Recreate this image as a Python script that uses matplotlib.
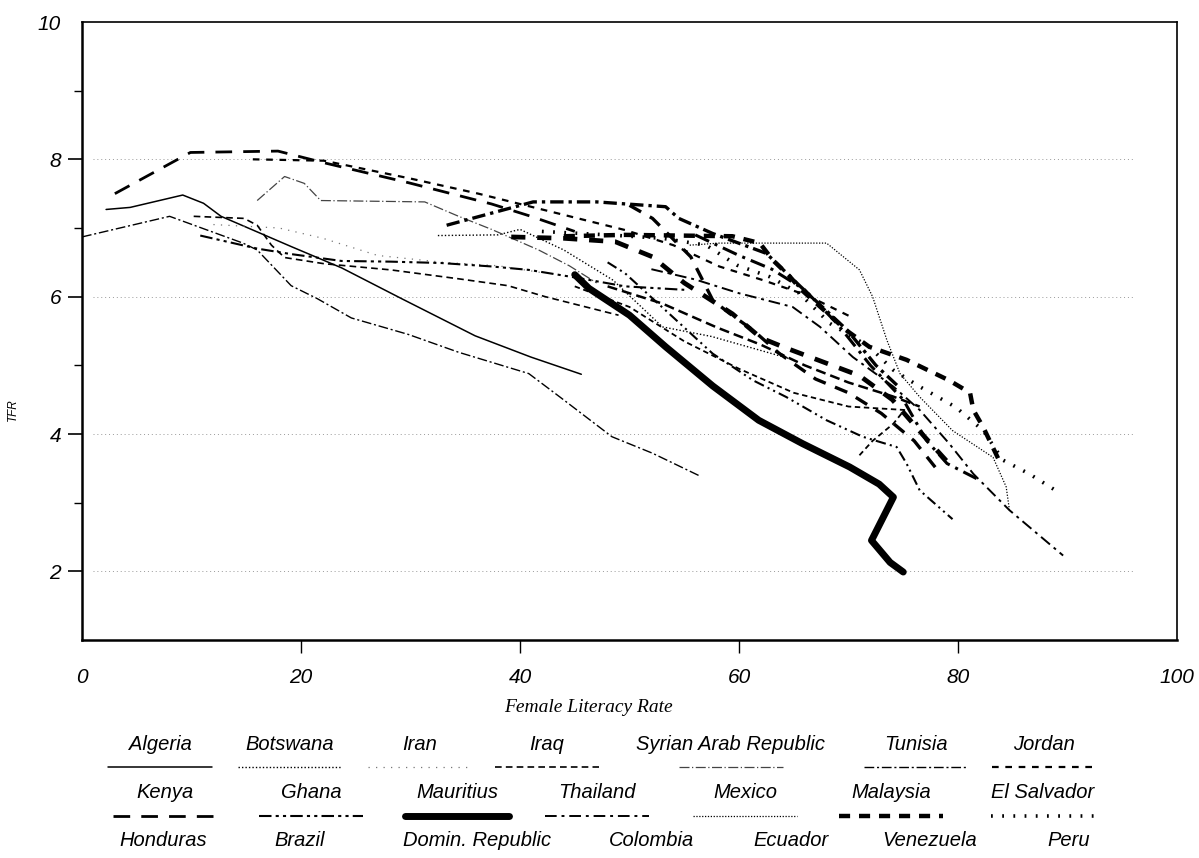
import matplotlib
matplotlib.use("Agg")

import matplotlib.pyplot as plt
from matplotlib.lines import Line2D

W, H = 1199, 858

# female literacy (x) and TFR (y) per country
lit_algeria = [2.2, 4.4, 9.2, 11.1, 12.7, 19.1, 23.7, 29.2, 35.9, 41.0, 45.6]
tfr_algeria = [7.27, 7.30, 7.48, 7.36, 7.17, 6.73, 6.42, 5.97, 5.43, 5.12, 4.87]

lit_botswana = [32.5, 38.0, 40.0, 44.0, 48.5, 53.0, 57.5, 65.0]
tfr_botswana = [6.89, 6.90, 6.98, 6.68, 6.24, 5.56, 5.42, 5.08]

lit_iran = [12.0, 18.0, 22.0, 27.0, 33.0, 38.0, 42.0]
tfr_iran = [7.05, 7.00, 6.85, 6.60, 6.50, 6.45, 6.35]

lit_iraq = [10.2, 14.8, 16.0, 17.3, 18.5, 22.1, 28.2, 34.4, 38.9, 42.3, 49.0]
tfr_iraq = [7.17, 7.14, 7.04, 6.75, 6.57, 6.48, 6.39, 6.26, 6.16, 6.00, 5.73]

lit_syria = [16.0, 18.5, 20.3, 21.8, 31.3, 34.4, 37.4, 41.7, 44.5, 47.0]
tfr_syria = [7.40, 7.75, 7.65, 7.40, 7.38, 7.17, 6.98, 6.68, 6.45, 6.20]

lit_tunisia = [0.0, 8.0, 14.7, 16.0, 19.1, 21.5, 24.6, 29.8, 34.4, 40.8, 43.8, 48.4, 52.1, 56.4]
tfr_tunisia = [6.87, 7.17, 6.78, 6.68, 6.16, 5.97, 5.69, 5.45, 5.19, 4.88, 4.52, 3.96, 3.72, 3.39]

lit_jordan = [15.6, 22.1, 30.0, 36.2, 41.0, 49.6, 54.0, 58.2, 62.2, 66.2, 70.3]
tfr_jordan = [8.00, 7.98, 7.72, 7.50, 7.31, 6.97, 6.75, 6.44, 6.24, 6.02, 5.70]

lit_kenya = [3.0, 9.9, 17.9, 22.1, 29.8, 37.4, 41.0, 45.0]
tfr_kenya = [7.50, 8.10, 8.12, 7.95, 7.66, 7.35, 7.17, 6.95]

lit_ghana = [10.8, 16.0, 19.1, 23.7, 28.2, 32.8, 37.4, 40.8, 45.4, 49.6, 55.0]
tfr_ghana = [6.89, 6.70, 6.62, 6.52, 6.51, 6.49, 6.44, 6.39, 6.27, 6.15, 6.10]

lit_mauritius = [45.0, 46.3, 50.0, 53.3, 57.6, 61.8, 65.8, 70.1, 72.8, 74.1, 72.1, 73.8, 75.0]
tfr_mauritius = [6.32, 6.12, 5.73, 5.27, 4.70, 4.20, 3.86, 3.52, 3.27, 3.08, 2.45, 2.13, 1.99]

lit_thailand = [52.0, 56.0, 60.0, 64.9, 67.4, 70.4, 74.1, 76.5, 79.2, 81.4, 84.7, 89.6]
tfr_thailand = [6.40, 6.25, 6.05, 5.85, 5.56, 5.12, 4.69, 4.35, 3.86, 3.42, 2.89, 2.23]

lit_mexico = [55.5, 58.2, 68.0, 71.0, 72.2, 73.5, 74.7, 76.5, 79.5, 83.2, 84.4, 84.7]
tfr_mexico = [6.75, 6.78, 6.78, 6.39, 6.00, 5.37, 4.88, 4.54, 4.05, 3.66, 3.23, 2.89]

lit_malaysia = [44.0, 49.6, 59.4, 61.9, 63.1, 64.6, 65.7, 69.8, 71.9, 75.3, 79.2, 81.1, 81.4, 82.3, 83.8]
tfr_malaysia = [6.88, 6.90, 6.88, 6.78, 6.53, 6.30, 6.10, 5.51, 5.27, 5.08, 4.78, 4.60, 4.35, 4.10, 3.60]

lit_elsalvador = [42.0, 48.0, 53.0, 57.0, 59.8, 62.8, 65.5, 68.3, 71.9, 74.1, 76.5, 79.8, 82.3, 84.1, 86.5, 88.9]
tfr_elsalvador = [6.95, 6.90, 6.85, 6.75, 6.46, 6.29, 6.05, 5.61, 5.27, 4.93, 4.69, 4.39, 4.05, 3.62, 3.42, 3.18]

lit_honduras = [33.3, 41.2, 47.0, 53.3, 54.5, 57.6, 62.5, 65.6, 69.9, 72.5, 74.5]
tfr_honduras = [7.04, 7.38, 7.38, 7.31, 7.14, 6.92, 6.63, 6.15, 5.51, 5.00, 4.70]

lit_brazil = [45.0, 50.0, 55.0, 60.0, 65.0, 70.0, 75.1, 74.1, 72.2, 71.0]
tfr_brazil = [6.15, 5.85, 5.35, 4.95, 4.60, 4.40, 4.35, 4.15, 3.90, 3.69]

lit_domrep = [50.0, 52.1, 55.6, 57.6, 59.1, 61.3, 63.7, 67.0, 70.0, 73.0, 76.0, 78.0]
tfr_domrep = [7.33, 7.14, 6.58, 5.95, 5.76, 5.51, 5.17, 4.80, 4.60, 4.30, 3.90, 3.50]

lit_colombia = [48.0, 49.6, 53.3, 57.6, 61.3, 64.3, 68.0, 71.3, 74.4, 75.3, 76.5, 79.5]
tfr_colombia = [6.50, 6.34, 5.80, 5.17, 4.78, 4.54, 4.20, 3.96, 3.81, 3.57, 3.18, 2.76]

lit_ecuador = [39.2, 44.0, 48.7, 52.1, 55.0, 59.4, 62.0, 64.0, 66.0, 68.0, 71.0, 74.0, 77.0, 79.0]
tfr_ecuador = [6.87, 6.85, 6.80, 6.58, 6.20, 5.75, 5.40, 5.27, 5.15, 5.03, 4.85, 4.50, 3.95, 3.60]

lit_venezuela = [56.0, 60.0, 63.0, 66.0, 69.0, 72.0, 75.0, 77.1, 79.0, 81.7]
tfr_venezuela = [6.90, 6.60, 6.40, 6.10, 5.60, 5.00, 4.50, 3.91, 3.57, 3.35]

lit_peru = [48.0, 53.0, 58.0, 62.0, 66.0, 70.0, 74.0, 76.5]
tfr_peru = [6.15, 5.90, 5.55, 5.30, 5.00, 4.75, 4.55, 4.40]

series = [
    ("Algeria", lit_algeria, tfr_algeria),
    ("Botswana", lit_botswana, tfr_botswana),
    ("Iran", lit_iran, tfr_iran),
    ("Iraq", lit_iraq, tfr_iraq),
    ("Syrian Arab Republic", lit_syria, tfr_syria),
    ("Tunisia", lit_tunisia, tfr_tunisia),
    ("Jordan", lit_jordan, tfr_jordan),
    ("Kenya", lit_kenya, tfr_kenya),
    ("Ghana", lit_ghana, tfr_ghana),
    ("Mauritius", lit_mauritius, tfr_mauritius),
    ("Thailand", lit_thailand, tfr_thailand),
    ("Mexico", lit_mexico, tfr_mexico),
    ("Malaysia", lit_malaysia, tfr_malaysia),
    ("El Salvador", lit_elsalvador, tfr_elsalvador),
    ("Honduras", lit_honduras, tfr_honduras),
    ("Brazil", lit_brazil, tfr_brazil),
    ("Domin. Republic", lit_domrep, tfr_domrep),
    ("Colombia", lit_colombia, tfr_colombia),
    ("Ecuador", lit_ecuador, tfr_ecuador),
    ("Venezuela", lit_venezuela, tfr_venezuela),
    ("Peru", lit_peru, tfr_peru),
]

# line styles (black and white print)
styles = {
    "Algeria": dict(lw=1.1, ls="-"),
    "Botswana": dict(lw=1.0, ls=(0, (1, 1.5))),
    "Iran": dict(lw=0.9, ls=(0, (1, 5)), color="#777777"),
    "Iraq": dict(lw=1.2, ls=(0, (4, 2.5))),
    "Syrian Arab Republic": dict(lw=0.9, ls=(0, (8, 2, 1, 2)), color="#444444"),
    "Tunisia": dict(lw=1.0, ls=(0, (7, 2, 1.5, 2))),
    "Jordan": dict(lw=1.6, ls=(0, (3, 3))),
    "Kenya": dict(lw=2.0, ls=(0, (6, 4))),
    "Ghana": dict(lw=1.5, ls=(0, (6, 2, 1.5, 2, 1.5, 2))),
    "Mauritius": dict(lw=5.0, ls="-"),
    "Thailand": dict(lw=1.4, ls=(0, (6, 2.5, 1.5, 2.5))),
    "Mexico": dict(lw=0.9, ls=(0, (1, 1.3))),
    "Malaysia": dict(lw=3.2, ls=(0, (2.5, 2))),
    "El Salvador": dict(lw=2.6, ls=(0, (0.5, 2.6))),
    "Honduras": dict(lw=2.4, ls=(0, (4, 1.5, 1, 1.5))),
    "Brazil": dict(lw=1.3, ls=(0, (3, 2))),
    "Domin. Republic": dict(lw=2.4, ls=(0, (4, 3))),
    "Colombia": dict(lw=1.5, ls=(0, (5, 2, 1, 2, 1, 2))),
    "Ecuador": dict(lw=3.4, ls=(0, (3, 2.5))),
    "Venezuela": dict(lw=2.2, ls=(0, (5, 2, 1, 2))),
    "Peru": dict(lw=1.8, ls=(0, (4, 2))),
}

# legend layout: 3 rows x 7 columns (pixel centres)
leg_cols = [
    [160, 290, 420, 547, 731, 916, 1044],
    [165, 311, 457, 597, 745, 891, 1043],
    [163, 300, 477, 652, 791, 930, 1069],
]
leg_text_y = [745, 793, 841]
leg_line_y = [767, 816, 862]
# bottom row samples are cut off by the page edge, only the thick ones peek in
peek = {"Ecuador": (0, (1.2, 0.5)), "Venezuela": (0, (0.6, 0.3)), "Peru": (0, (1.5, 0.8))}

fig = plt.figure(figsize=(W / 100, H / 100), dpi=100)
ax = fig.add_axes([82 / W, 1 - 640 / H, (1177 - 82) / W, (640 - 22) / H])

for yv in [2, 4, 6, 8]:
    ax.axhline(yv, xmin=0.01, xmax=0.96, color="#999999", lw=0.7, ls=(0, (1, 3)), zorder=0)

for name, xs, ys in series:
    st = styles[name]
    ax.plot(xs, ys, color=st.get("color", "black"), lw=st["lw"], ls=st["ls"],
            dash_capstyle="butt", solid_capstyle="round", solid_joinstyle="round")

ax.set_xlim(0, 100)
ax.set_ylim(1, 10)

tick_font = dict(family="Liberation Sans", style="italic", size=15)
ax.set_xticks([0, 20, 40, 60, 80, 100])
ax.set_xticklabels(["0", "20", "40", "60", "80", "100"], fontdict=tick_font)
ax.set_yticks([2, 4, 6, 8, 10])
ax.set_yticklabels(["2", "4", "6", "8", "10"], fontdict=tick_font)
ax.set_yticks([3, 5, 7, 9], minor=True)
ax.tick_params(axis="x", direction="out", length=9, width=1.0, pad=11)
ax.tick_params(axis="y", direction="out", length=10, width=1.2, pad=5)
ax.tick_params(axis="y", which="minor", direction="out", length=6, width=1.0)
ax.xaxis.get_major_ticks()[0].tick1line.set_visible(False)
ax.xaxis.get_major_ticks()[-1].tick1line.set_visible(False)
ax.yaxis.get_major_ticks()[-1].tick1line.set_visible(False)

for side in ["left", "bottom"]:
    ax.spines[side].set_linewidth(1.8)
for side in ["top", "right"]:
    ax.spines[side].set_linewidth(1.2)

fig.text(588 / W, 1 - 708 / H, "Female Literacy Rate", family="Liberation Serif",
         style="italic", size=14, ha="center", va="center")
fig.text(13 / W, 1 - 410 / H, "TFR", family="Liberation Sans", style="italic",
         size=8.5, rotation=90, ha="center", va="center")

# legend drawn by hand below the plot
for i, (name, xs, ys) in enumerate(series):
    r, c = divmod(i, 7)
    cx = leg_cols[r][c]
    st = styles[name]
    fig.text(cx / W, 1 - leg_text_y[r] / H, name, family="Liberation Sans",
             style="italic", size=14.5, ha="center", va="center")
    lw, ls = st["lw"], st["ls"]
    if r == 2:
        if name not in peek:
            continue
        lw, ls = 8, peek[name]
    fig.add_artist(Line2D([(cx - 52) / W, (cx + 52) / W],
                          [1 - leg_line_y[r] / H, 1 - leg_line_y[r] / H],
                          color=st.get("color", "black"), lw=lw, ls=ls,
                          transform=fig.transFigure, solid_capstyle="round"))

fig.savefig("out.png", dpi=100)
